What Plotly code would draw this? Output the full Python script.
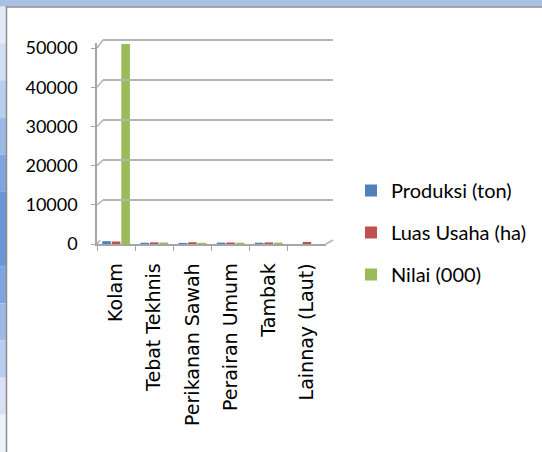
import plotly.graph_objects as go

W, H = 542, 452

categories = ["Kolam", "Tebat Tekhnis", "Perikanan Sawah", "Perairan Umum", "Tambak", "Lainnay (Laut)"]
produksi = [720, 310, 280, 350, 330, 0]
luas_usaha = [640, 420, 450, 380, 400, 520]
nilai = [51000, 380, 300, 320, 350, 0]

series_names = ["Produksi (ton)", "Luas Usaha (ha)", "Nilai (000)"]
series_colors = ["#4f81bd", "#c0504d", "#9bbb59"]
y_ticks = [0, 10000, 20000, 30000, 40000, 50000]

Y_MAX = 51300


def px(x):
    return x / W


def py(y):
    return 1 - y / H


# pixel geometry of the pseudo-3D box (front face and back wall)
FRONT_L, FRONT_R, FRONT_B = 97, 326, 244
BACK_L, BACK_R, BACK_B = 103, 333, 240
FRONT_SCALE = 196 / 50000
BACK_SCALE = 200 / 50000


def front_y(v):
    return FRONT_B - v * FRONT_SCALE


def back_y(v):
    return BACK_B - v * BACK_SCALE


fig = go.Figure()

# invisible trace to hold the back-wall subplot (gridlines)
fig.add_trace(
    go.Scatter(x=[0], y=[0], xaxis="x2", yaxis="y2", mode="markers",
               marker=dict(opacity=0), showlegend=False, hoverinfo="skip")
)

for name, vals, color in zip(series_names, [produksi, luas_usaha, nilai], series_colors):
    fig.add_trace(
        go.Bar(
            x=categories,
            y=vals,
            name=name,
            marker=dict(color=color, line=dict(width=0)),
            legendgroup=name,
            xaxis="x",
            yaxis="y",
        )
    )

shapes = []
# window frame decoration
shapes.append(dict(type="rect", xref="paper", yref="paper", x0=0, x1=1, y0=py(6.5), y1=1.01,
                   fillcolor="#a9c1e7", line=dict(width=0), layer="above"))
left_band = ["#e4ebf7", "#d2def3", "#b9cdee", "#9db9e6", "#7fa4de", "#6b97d9",
             "#6b97d9", "#7fa4de", "#9db9e6", "#b9cdee", "#d8e2f4", "#eef2f9"]
seg = (H - 6) / len(left_band)
for i, c in enumerate(left_band):
    shapes.append(dict(type="rect", xref="paper", yref="paper", x0=0, x1=px(6),
                       y0=py(6 + seg * (i + 1)), y1=py(6 + seg * i),
                       fillcolor=c, line=dict(width=0), layer="below"))
shapes.append(dict(type="line", xref="paper", yref="paper", x0=px(6), x1=1, y0=py(7), y1=py(7),
                   line=dict(color="#8c8c8c", width=1.5), layer="above"))
shapes.append(dict(type="line", xref="paper", yref="paper", x0=px(6.5), x1=px(6.5), y0=0, y1=py(6),
                   line=dict(color="#8c8c8c", width=1.5)))

# slanted connectors between front axis and back wall gridlines
for v in y_ticks[1:]:
    shapes.append(dict(type="line", xref="paper", yref="paper",
                       x0=px(FRONT_L), y0=py(front_y(v)), x1=px(BACK_L), y1=py(back_y(v)),
                       line=dict(color="#b4b4b4", width=1.5), layer="below"))
# floor edges
shapes.append(dict(type="line", xref="paper", yref="paper",
                   x0=px(FRONT_L), y0=py(FRONT_B), x1=px(BACK_L - 3), y1=py(BACK_B),
                   line=dict(color="#b4b4b4", width=1.5), layer="below"))
shapes.append(dict(type="line", xref="paper", yref="paper",
                   x0=px(FRONT_R), y0=py(FRONT_B), x1=px(BACK_R), y1=py(BACK_B),
                   line=dict(color="#b4b4b4", width=1.5), layer="below"))

fig.update_layout(
    width=W,
    height=H,
    margin=dict(l=0, r=0, t=0, b=0, autoexpand=False),
    paper_bgcolor="white",
    plot_bgcolor="rgba(0,0,0,0)",
    barmode="group",
    bargap=0.25,
    bargroupgap=0.1,
    showlegend=True,
    shapes=shapes,
    xaxis=dict(
        domain=[px(FRONT_L), px(FRONT_R)],
        anchor="y",
        showgrid=False,
        showline=True,
        linecolor="#a6a6a6",
        linewidth=1.5,
        ticks="outside",
        ticklen=5,
        tickcolor="#a6a6a6",
        tickson="boundaries",
        tickangle=-90,
        tickfont=dict(family="DejaVu Sans", size=19, color="black"),
        ticklabelstandoff=10,
    ),
    yaxis=dict(
        domain=[py(FRONT_B), py(front_y(Y_MAX))],
        anchor="x",
        range=[0, Y_MAX],
        tickvals=y_ticks,
        ticktext=[str(v) for v in y_ticks],
        showgrid=False,
        zeroline=False,
        showline=True,
        linecolor="#a6a6a6",
        linewidth=1.5,
        ticks="outside",
        ticklen=4,
        tickcolor="#a6a6a6",
        tickfont=dict(family="Lato", size=18, color="black"),
        ticklabelstandoff=10,
    ),
    xaxis2=dict(
        domain=[px(BACK_L), px(BACK_R)],
        anchor="y2",
        range=[0, 1],
        visible=False,
    ),
    yaxis2=dict(
        domain=[py(BACK_B), py(back_y(Y_MAX))],
        anchor="x2",
        range=[0, Y_MAX],
        tickvals=y_ticks,
        showticklabels=False,
        showgrid=True,
        gridcolor="#b4b4b4",
        gridwidth=1.5,
        zeroline=False,
        showline=False,
        ticks="",
    ),
    legend=dict(
        x=px(351),
        y=py(171),
        xanchor="left",
        yanchor="top",
        bgcolor="rgba(0,0,0,0)",
        font=dict(family="Lato", size=20, color="black"),
        tracegroupgap=13,
        traceorder="grouped",
    ),
)

# the page body has a default margin; remove it so the figure fills the window
fig.write_html("out.html", config={"displayModeBar": False},
               post_script="document.body.style.margin='0px';")
